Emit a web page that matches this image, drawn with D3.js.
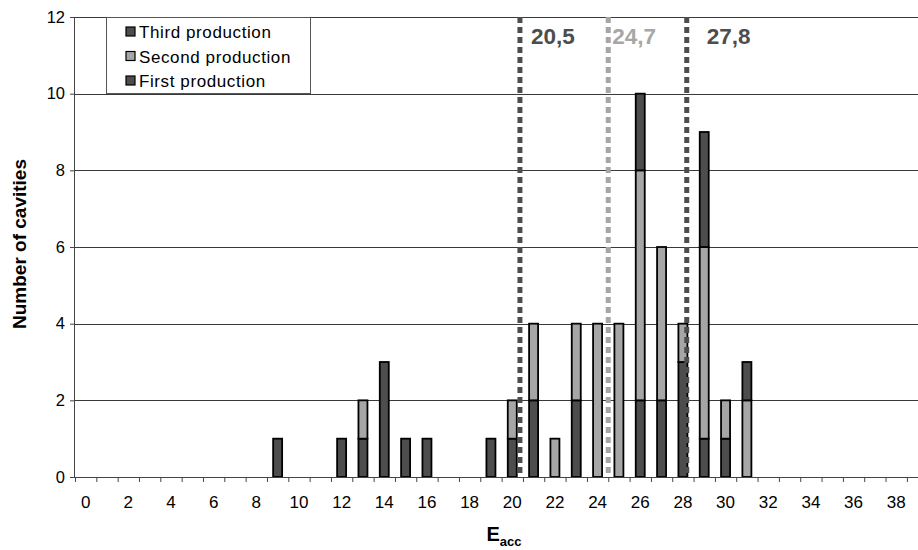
<!DOCTYPE html>
<html>
<head>
<meta charset="utf-8">
<script src="https://cdn.jsdelivr.net/npm/d3@7"></script>
<style>
  html, body { margin: 0; padding: 0; background: #fff; }
  svg { display: block; font-family: "Liberation Sans", Arial, Helvetica, sans-serif; }
</style>
</head>
<body>
<svg id="chart" width="918" height="550"></svg>
<script>
// ---- data ----
const eacc = [0,1,2,3,4,5,6,7,8,9,10,11,12,13,14,15,16,17,18,19,20,21,22,23,24,25,26,27,28,29,30,31,32,33,34,35,36,37,38,39];
const firstProduction  = [0,0,0,0,0,0,0,0,0,1, 0,0,1,1,3,1,1,0,0,1, 1,2,0,2,0,0,2,2,3,1, 1,0,0,0,0,0,0,0,0,0];
const secondProduction = [0,0,0,0,0,0,0,0,0,0, 0,0,0,1,0,0,0,0,0,0, 1,2,1,2,4,4,6,4,1,5, 1,2,0,0,0,0,0,0,0,0];
const thirdProduction  = [0,0,0,0,0,0,0,0,0,0, 0,0,0,0,0,0,0,0,0,0, 0,0,0,0,0,0,2,0,0,3, 0,1,0,0,0,0,0,0,0,0];
const seriesNames = ["First production", "Second production", "Third production"];
const yTicks = [0, 2, 4, 6, 8, 10, 12];
const xTickLabels = [0,2,4,6,8,10,12,14,16,18,20,22,24,26,28,30,32,34,36,38];
// average markers: label text and position on the E_acc axis
const markerLabels = ["20,5", "24,7", "27,8"];
const markerPositions = [20.36, 24.5, 28.18];

// ---- styles ----
const colors = { "First production": "#4d4d4d", "Second production": "#a6a6a6", "Third production": "#4d4d4d" };
const markerColors = ["#4d4d4d", "#a6a6a6", "#4d4d4d"];

(function () {
const svg = d3.select("#chart");
const pLeft = 75, pTop = 17, pBottom = 477;
const step = 21.33;
const pRight = pLeft + step * eacc.length;

const x = d3.scaleBand().domain(eacc).range([pLeft, pRight]).padding(0);
const xLin = d3.scaleLinear().domain([0, eacc.length]).range([pLeft, pRight]);
const xPos = d3.scaleLinear().domain([0, eacc.length]).range([pLeft + step / 2, pRight + step / 2]);
const y = d3.scaleLinear().domain([0, 12]).range([pBottom, pTop]);

// gridlines
svg.append("g").selectAll("line").data(yTicks.filter(d => d > 0)).join("line")
  .attr("x1", pLeft).attr("x2", 918)
  .attr("y1", d => Math.round(y(d)) + 0.5).attr("y2", d => Math.round(y(d)) + 0.5)
  .attr("stroke", "#3a3a3a").attr("stroke-width", 1);

// stacked bars
const table = eacc.map((c, i) => ({
  cat: c,
  "First production": firstProduction[i],
  "Second production": secondProduction[i],
  "Third production": thirdProduction[i]
}));
const stacked = d3.stack().keys(seriesNames)(table);
const barW = 9;
const gBars = svg.append("g");
stacked.forEach(layer => {
  gBars.append("g").selectAll("rect")
    .data(layer.filter(d => d[1] - d[0] > 0))
    .join("rect")
    .attr("x", d => x(d.data.cat) + (x.bandwidth() - barW) / 2)
    .attr("width", barW)
    .attr("y", d => y(d[1]))
    .attr("height", d => y(d[0]) - y(d[1]))
    .attr("fill", colors[layer.key])
    .attr("stroke", "#000")
    .attr("stroke-width", 1.8);
});

// y axis
const yAxis = svg.append("g").attr("transform", `translate(${pLeft},0)`)
  .call(d3.axisLeft(y).tickValues(yTicks).tickSize(5).tickPadding(5).tickFormat(d3.format("d")));
yAxis.select(".domain").attr("stroke", "#444").attr("d", `M-0.5,${pTop}V${pBottom}`);
yAxis.selectAll(".tick line").attr("stroke", "#444");
yAxis.selectAll("text").attr("font-size", 16.5).attr("fill", "#000")
  .attr("font-family", "'Liberation Sans', Arial, sans-serif");

// x axis: tick marks at band boundaries
const xTickAxis = svg.append("g").attr("transform", `translate(0,${pBottom})`)
  .call(d3.axisBottom(xLin).tickValues(d3.range(0, eacc.length + 1)).tickSize(5).tickFormat(""));
xTickAxis.select(".domain").attr("stroke", "#444").attr("d", `M${pLeft},0.5H918`);
xTickAxis.selectAll(".tick line").attr("stroke", "#444");

// x axis labels
const xLabAxis = svg.append("g").attr("transform", `translate(0,${pBottom})`)
  .call(d3.axisBottom(x).tickValues(xTickLabels).tickSize(0).tickPadding(19));
xLabAxis.select(".domain").remove();
xLabAxis.selectAll("text").attr("font-size", 17).attr("fill", "#000")
  .attr("font-family", "'Liberation Sans', Arial, sans-serif");

// marker dotted lines
svg.append("g").selectAll("line").data(markerPositions).join("line")
  .attr("x1", d => xPos(d)).attr("x2", d => xPos(d))
  .attr("y1", pTop).attr("y2", pBottom)
  .attr("stroke", (d, i) => markerColors[i])
  .attr("stroke-width", 5)
  .attr("stroke-dasharray", "6,4");

// marker labels
const labelOffsets = [11, 4, 20];
svg.append("g").selectAll("text").data(markerLabels).join("text")
  .attr("x", (d, i) => xPos(markerPositions[i]) + labelOffsets[i])
  .attr("y", 44)
  .attr("font-size", 22.5).attr("font-weight", "bold")
  .attr("fill", (d, i) => markerColors[i])
  .text(d => d);

// legend
const legend = svg.append("g");
legend.append("rect").attr("x", 106.5).attr("y", pTop + 0.5).attr("width", 204).attr("height", 76)
  .attr("fill", "#fff").attr("stroke", "#555").attr("stroke-width", 1);
const legendOrder = seriesNames.slice().reverse();
const lg = legend.selectAll("g.item").data(legendOrder).join("g").attr("class", "item")
  .attr("transform", (d, i) => `translate(126,${32 + i * 24.5})`);
lg.append("rect").attr("x", 0).attr("y", -5).attr("width", 9).attr("height", 9)
  .attr("fill", d => colors[d]).attr("stroke", "#000").attr("stroke-width", 1.2);
lg.append("text").attr("x", 13).attr("y", 6).attr("font-size", 17)
  .attr("letter-spacing", 0.6).attr("fill", "#000").text(d => d);

// axis titles
svg.append("text")
  .attr("transform", `translate(26,244) rotate(-90)`)
  .attr("text-anchor", "middle").attr("font-size", 19).attr("font-weight", "bold")
  .text("Number of cavities");

const xt = svg.append("text").attr("x", 504).attr("y", 541).attr("text-anchor", "middle")
  .attr("font-weight", "bold").attr("font-size", 20);
xt.append("tspan").text("E");
xt.append("tspan").attr("font-size", 13).attr("dy", 5).text("acc");
})();
</script>
</body>
</html>
